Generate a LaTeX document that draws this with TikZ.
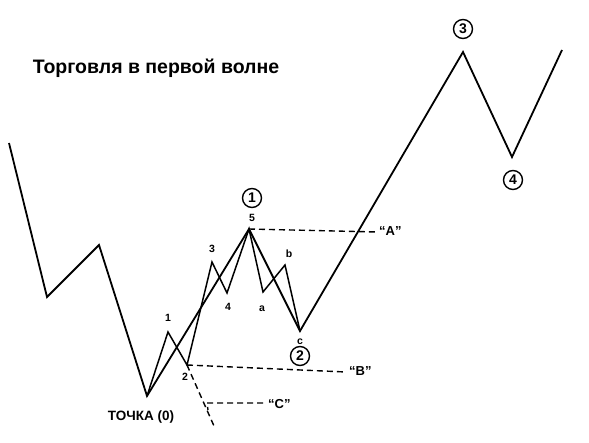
\documentclass[tikz,border=0pt]{standalone}
\usepackage{fontspec}
\setmainfont{Liberation Sans}
\begin{document}
\begin{tikzpicture}[x=1pt,y=-1pt,
  wave/.style={line width=1.8pt, line join=miter},
  sub/.style={line width=1.5pt, line join=miter},
  guide/.style={line width=1.4pt, dash pattern=on 6pt off 4pt},
  lbl/.style={font=\bfseries\fontsize{10.5}{10.5}\selectfont, inner sep=0pt},
  qlbl/.style={font=\bfseries\fontsize{13}{13}\selectfont, inner sep=0pt, anchor=west},
  circ/.style={draw, circle, line width=1.4pt, minimum size=19pt, inner sep=0pt, font=\bfseries\fontsize{14}{14}\selectfont}]
\useasboundingbox (0,0) rectangle (589,443);
% main wave points
\coordinate (s) at (9,143);
\coordinate (m1) at (47,297);
\coordinate (m2) at (99,245);
\coordinate (p0) at (147,396);
\coordinate (p1) at (249,229);
\coordinate (p2) at (300,331);
\coordinate (p3) at (463,52);
\coordinate (p4) at (512,157);
\coordinate (e) at (562,50);
% sub waves
\coordinate (w1) at (168,332);
\coordinate (w2) at (187,365);
\coordinate (w3) at (212,262);
\coordinate (w4) at (227,293);
\coordinate (ca) at (263,292);
\coordinate (cb) at (285,265);
% guide ends
\coordinate (aend) at (377,232);
\coordinate (bend) at (346,372);
\coordinate (cdiag) at (214,426);
\coordinate (cst) at (207,403);
\coordinate (ctick) at (208,410);
\coordinate (cend) at (263,403);

\draw[wave] (s)--(m1)--(m2)--(p0)--(p1)--(p2)--(p3)--(p4)--(e);
\draw[sub] (p0)--(w1)--(w2)--(w3)--(w4)--(p1)--(ca)--(cb)--(p2);

\draw[guide] (p1)--(aend);
\draw[guide] (w2)--(bend);
\draw[guide] (w2)--(cdiag);
\draw[guide] (cend)--(cst)--(ctick);

\node[qlbl] (A) at (379,231) {“A”};
\node[qlbl] (B) at (349,371) {“B”};
\node[qlbl] (C) at (268,404) {“C”};

\node[lbl] (l5) at (252,218) {5};
\node[lbl] (l3) at (212,249) {3};
\node[lbl] (l1) at (168,318) {1};
\node[lbl] (l2) at (185,377) {2};
\node[lbl] (l4) at (228,307) {4};
\node[lbl] (la) at (262,309) {a};
\node[lbl] (lb) at (289,254) {b};
\node[lbl] (lc) at (300,342) {c};

\node[circ] (c1) at (252,198) {1};
\node[circ] (c2) at (300,356) {2};
\node[circ] (c3) at (463,29) {3};
\node[circ] (c4) at (513,180) {4};

\node[font=\bfseries\fontsize{19.5}{20}\selectfont, inner sep=0pt] (title) at (156,68) {Торговля в первой волне};
\node[font=\bfseries\fontsize{13.5}{14}\selectfont, inner sep=0pt] (zero) at (141,417) {ТОЧКА (0)};
\end{tikzpicture}
\end{document}
